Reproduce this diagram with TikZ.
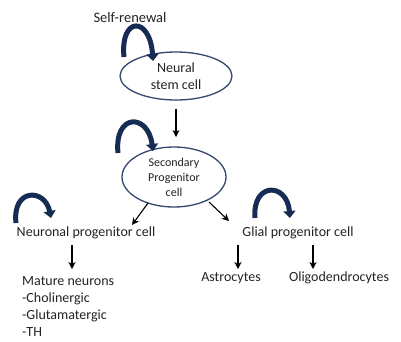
\documentclass[tikz,border=0pt]{standalone}
\usepackage{fontspec}
\setmainfont{Carlito}
\usetikzlibrary{shapes.geometric,arrows.meta}
\definecolor{loopc}{RGB}{22,44,84}
\definecolor{ellc}{RGB}{52,72,110}
\definecolor{txt}{RGB}{35,35,35}
\tikzset{
  cellell/.style={ellipse,draw=ellc,line width=1.3pt,fill=white,inner sep=0pt,align=center,text=txt},
  lbl/.style={inner sep=0pt,text=txt,font=\fontsize{14}{17}\selectfont},
  conn/.style={-{Stealth[length=7pt,width=7pt,inset=2pt]},line width=1.1pt,black},
  selfloop/.style={loopc,line width=5pt,-{Triangle[length=7pt,width=12pt]}}
}
\begin{document}
\begin{tikzpicture}[x=1pt,y=-1pt]
\useasboundingbox (0,0) rectangle (401,341);
% nodes
\node[lbl,font=\fontsize{14.5}{17}\selectfont] (self) at (130,18) {Self-renewal};
\node[cellell,minimum width=112pt,minimum height=48pt,font=\fontsize{14}{17}\selectfont] (nsc) at (176,76) {Neural\\stem cell};
\node[cellell,minimum width=104pt,minimum height=60pt,font=\fontsize{12}{15}\selectfont] (spc) at (174,177) {Secondary\\Progenitor\\cell};
\node[lbl] (npc) at (86,233) {Neuronal progenitor cell};
\node[lbl] (gpc) at (298,233) {Glial progenitor cell};
\node[lbl,align=left,anchor=north west] (mn) at (22,276) {Mature neurons\\-Cholinergic\\-Glutamatergic\\-TH};
\node[lbl] (astro) at (231,278) {Astrocytes};
\node[lbl] (oligo) at (339,278) {Oligodendrocytes};
% connectors
\draw[conn] (nsc.south) ++(0,8) coordinate (a1) -- (176,137) coordinate (a2);
\draw[conn] (148,203) coordinate (b1) -- (132,225) coordinate (b2);
\draw[conn] (209,202) coordinate (c1) -- (229,221) coordinate (c2);
\draw[conn] (72,245) coordinate (d1) -- (72,269) coordinate (d2);
\draw[conn] (238,245) coordinate (e1) -- (238,269) coordinate (e2);
\draw[conn] (313,245) coordinate (f1) -- (313,269) coordinate (f2);
% self-renewal loops
\coordinate (l1s) at (124,57); \coordinate (l1e) at (153,61);
\draw[selfloop] (l1s) .. controls (120,16) and (150,16) .. (l1e);
\coordinate (l2s) at (118,153); \coordinate (l2e) at (153,151);
\draw[selfloop] (l2s) .. controls (114,113) and (148,113) .. (l2e);
\coordinate (l3s) at (16,223); \coordinate (l3e) at (51,218);
\draw[selfloop] (l3s) .. controls (12,188) and (45,188) .. (l3e);
\coordinate (l4s) at (255,218); \coordinate (l4e) at (290,218);
\draw[selfloop] (l4s) .. controls (252,182) and (287,182) .. (l4e);
\end{tikzpicture}
\end{document}
